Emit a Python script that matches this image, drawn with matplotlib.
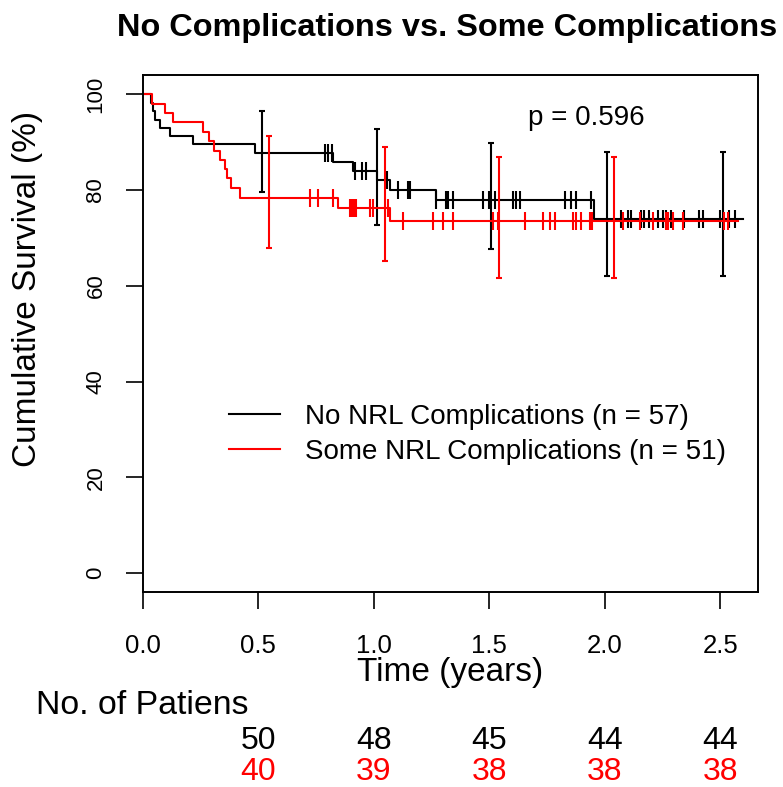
import numpy as np
import matplotlib
matplotlib.use('Agg')
import matplotlib.pyplot as plt
import matplotlib.transforms as mtransforms

plt.rcParams['font.family'] = ['Liberation Sans', 'DejaVu Sans']

# Curva KM: sin complicaciones (negro)
no_t = [0, 0.037, 0.044, 0.054, 0.076, 0.119, 0.220, 0.486, 0.825, 0.911, 1.015, 1.070, 1.268, 1.956, 2.597]
no_s = [100, 98.2, 96.5, 94.7, 93.0, 91.2, 89.5, 87.7, 85.9, 84.0, 82.0, 80.0, 77.8, 73.9, 73.9]
no_cens = [0.789, 0.803, 0.818, 0.919, 0.948, 0.969, 1.056, 1.106, 1.149, 1.157,
           1.272, 1.312, 1.322, 1.344, 1.473, 1.500, 1.524, 1.603, 1.618, 1.632,
           1.827, 1.856, 1.877, 1.942, 2.072, 2.100, 2.115, 2.158, 2.172, 2.194,
           2.230, 2.252, 2.266, 2.288, 2.345, 2.410, 2.424, 2.497, 2.540, 2.562]
no_ci_t = [0.515, 1.015, 1.510, 2.010, 2.511]
no_ci_lo = [79.6, 72.7, 67.6, 62.1, 62.1]
no_ci_hi = [96.5, 92.7, 89.8, 88.0, 88.0]

# Curva KM: con complicaciones (rojo)
some_t = [0, 0.040, 0.097, 0.133, 0.263, 0.289, 0.309, 0.335, 0.357, 0.367, 0.381, 0.422, 0.847, 1.070, 2.576]
some_s = [100, 98.0, 96.1, 94.1, 92.2, 90.2, 88.2, 86.3, 84.3, 82.4, 80.4, 78.4, 76.3, 73.5, 73.5]
some_cens = [0.724, 0.760, 0.825, 0.897, 0.904, 0.911, 0.919, 0.926, 0.984, 0.998,
             1.063, 1.128, 1.257, 1.300, 1.344, 1.517, 1.538, 1.654, 1.733, 1.762,
             1.783, 1.862, 1.877, 1.899, 1.935, 1.946, 2.079, 2.151, 2.208, 2.266,
             2.273, 2.295, 2.338, 2.518, 2.533]
some_ci_t = [0.547, 1.048, 1.543, 2.040]
some_ci_lo = [67.9, 65.1, 61.6, 61.6]
some_ci_hi = [91.2, 89.0, 86.9, 86.9]

risk_times = [0.5, 1.0, 1.5, 2.0, 2.5]
no_risk = [50, 48, 45, 44, 44]
some_risk = [40, 39, 38, 38, 38]


def surv_at(times, steps_t, steps_s):
    idx = np.searchsorted(steps_t, times, side='right') - 1
    return np.array(steps_s)[idx]


fig = plt.figure(figsize=(7.83, 7.87), dpi=100)
ax = fig.add_axes([0.182, 0.2474, 0.7865, 0.6573])

groups = [
    (no_t, no_s, no_cens, no_ci_t, no_ci_lo, no_ci_hi, 'black', 'No NRL Complications (n = 57)'),
    (some_t, some_s, some_cens, some_ci_t, some_ci_lo, some_ci_hi, 'red', 'Some NRL Complications (n = 51)'),
]
handles = []
for t, s, cens, ci_t, lo, hi, col, lab in groups:
    h, = ax.step(t, s, where='post', color=col, lw=1.5, label=lab)
    handles.append(h)
    ax.plot(cens, surv_at(cens, t, s), ls='none', marker='|', ms=13, mew=1.5, color=col)
    c = surv_at(ci_t, t, s)
    ax.errorbar(ci_t, c, yerr=[c - np.array(lo), np.array(hi) - c], fmt='none',
                ecolor=col, elinewidth=1.5, capsize=2.5, capthick=1.5)

ax.set_xlim(0, 2.665)
ax.set_ylim(-4, 104)
ax.set_xticks([0.0, 0.5, 1.0, 1.5, 2.0, 2.5])
ax.set_xticklabels(['0.0', '0.5', '1.0', '1.5', '2.0', '2.5'])
ax.set_yticks([0, 20, 40, 60, 80, 100])
for sp in ax.spines.values():
    sp.set_linewidth(1.4)
ax.tick_params(axis='both', direction='out', length=12, width=1.2)
ax.tick_params(axis='x', labelsize=18.5, pad=18)
ax.tick_params(axis='y', labelsize=16, pad=14)
for lbl in ax.get_yticklabels():
    lbl.set_rotation(90)
    lbl.set_va('center')

ax.text(1.667, 95.0, 'p = 0.596', fontsize=20, ha='left', va='center')

ax.legend(handles=handles, loc='upper left', bbox_to_anchor=(0.1405, 0.364), frameon=False,
          fontsize=20, handlelength=1.85, handletextpad=0.9, labelspacing=0.32,
          borderpad=0, borderaxespad=0)

fig.text(447 / 783, 1 - 28 / 787, 'No Complications vs. Some Complications',
         fontsize=23.4, fontweight='bold', ha='center', va='center')
fig.text(450 / 783, 1 - 673 / 787, 'Time (years)', fontsize=24, ha='center', va='center')
fig.text(28 / 783, 1 - 289 / 787, 'Cumulative Survival (%)', fontsize=24,
         rotation=90, ha='center', va='center')

fig.text(36 / 783, 1 - 706 / 787, 'No. of Patiens', fontsize=24.4, ha='left', va='center')
trans = mtransforms.blended_transform_factory(ax.transData, fig.transFigure)
for x, n1, n2 in zip(risk_times, no_risk, some_risk):
    ax.text(x, 1 - 741 / 787, str(n1), transform=trans, fontsize=23, ha='center', va='center', color='black')
    ax.text(x, 1 - 772 / 787, str(n2), transform=trans, fontsize=23, ha='center', va='center', color='red')

fig.savefig('out.png', dpi=100)
